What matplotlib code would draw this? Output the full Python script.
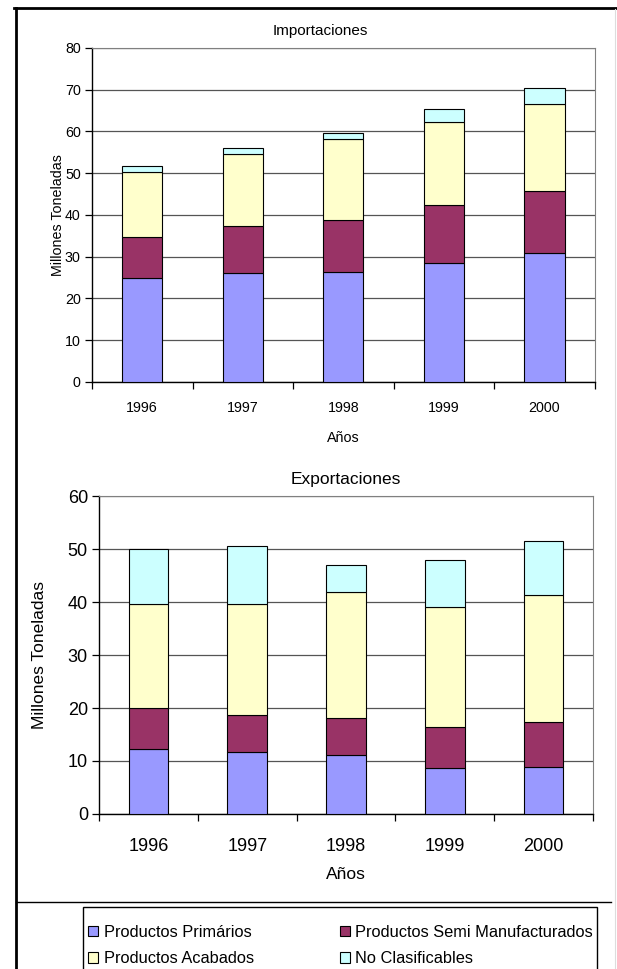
import matplotlib.pyplot as plt
from matplotlib.lines import Line2D
from matplotlib.patches import Rectangle
import numpy as np

plt.rcParams['font.family'] = ['Liberation Sans', 'DejaVu Sans']

years = ["1996", "1997", "1998", "1999", "2000"]
series = ["Productos Primários", "Productos Semi Manufacturados",
          "Productos Acabados", "No Clasificables"]
colors = ["#9999FF", "#993366", "#FFFFCC", "#CCFFFF"]

# millones de toneladas por segmento (apilado)
imp_primarios = [25.0, 26.0, 26.3, 28.4, 31.0]
imp_semi = [9.7, 11.4, 12.6, 14.0, 14.7]
imp_acabados = [15.6, 17.3, 19.4, 19.9, 20.8]
imp_noclas = [1.4, 1.4, 1.3, 3.1, 3.8]

exp_primarios = [12.3, 11.7, 11.1, 8.7, 8.8]
exp_semi = [7.7, 7.0, 7.1, 7.8, 8.5]
exp_acabados = [19.6, 20.9, 23.7, 22.6, 24.1]
exp_noclas = [10.4, 10.9, 5.1, 8.8, 10.2]

fig = plt.figure(figsize=(6.17, 9.69), dpi=100)

def stacked(ax, data, ymax, step, title, fs_tick, fs_title, fs_label, xpad, lpad, tx=0.5):
    x = np.arange(len(years))
    bottom = np.zeros(len(years))
    bars = []
    for vals, c in zip(data, colors):
        b = ax.bar(x, vals, 0.4, bottom=bottom, color=c, edgecolor="black",
                   linewidth=0.8, zorder=3)
        bars.append(b)
        bottom += np.array(vals)
    ax.set_xlim(-0.5, len(years) - 0.5)
    ax.set_ylim(0, ymax)
    ax.set_yticks(np.arange(0, ymax + 1, step))
    ax.yaxis.grid(True, color="#555555", linewidth=0.9, zorder=0)
    ax.set_xticks(x)
    ax.set_xticklabels(years, fontsize=fs_tick)
    ax.set_xticks(np.arange(-0.5, len(years)), minor=True)
    ax.tick_params(axis="x", which="major", length=0, pad=xpad)
    ax.tick_params(axis="x", which="minor", length=5, width=0.9)
    ax.tick_params(axis="y", length=5, width=0.9, labelsize=fs_tick, pad=3)
    for s in ["top", "right"]:
        ax.spines[s].set_color("#808080")
    for s in ["left", "bottom"]:
        ax.spines[s].set_linewidth(1.0)
    ax.set_title(title, fontsize=fs_title, pad=9, x=tx)
    ax.set_xlabel("Años", fontsize=fs_label, labelpad=lpad)
    ax.set_ylabel("Millones Toneladas", fontsize=fs_label)
    return bars

ax1 = fig.add_axes([0.149, 0.6058, 0.815, 0.3447])
stacked(ax1, [imp_primarios, imp_semi, imp_acabados, imp_noclas], 80, 10,
        "Importaciones", 10.3, 11, 10.3, 14, 11, tx=0.455)
ax1.yaxis.labelpad = 0

ax2 = fig.add_axes([0.1605, 0.16, 0.8006, 0.328])
bars = stacked(ax2, [exp_primarios, exp_semi, exp_acabados, exp_noclas], 60, 10,
               "Exportaciones", 13, 12.5, 12.5, 17, 9)
ax2.yaxis.labelpad = 15

# caja de la leyenda (sigue por debajo del borde inferior)
fig.add_artist(Rectangle((83 / 617, -0.05), (597 - 83) / 617, 0.05 + 1 - 907 / 969,
                         transform=fig.transFigure, facecolor="none",
                         edgecolor="black", linewidth=1.0))

# leyenda por filas: Primários / Semi, Acabados / No Clasificables
order = [0, 2, 1, 3]
leg = fig.legend([bars[i] for i in order], [series[i] for i in order],
                 loc="upper left", bbox_to_anchor=(88 / 617, 1 - 925 / 969),
                 ncol=2, frameon=False,
                 handlelength=0.6, handleheight=0.6, handletextpad=0.35,
                 columnspacing=5.25, borderpad=0, labelspacing=0.7,
                 borderaxespad=0, prop={"size": 11.8})

# marco exterior
fig.add_artist(Line2D([16 / 617, 16 / 617], [0, 1 - 8 / 969], color="black", linewidth=2))
fig.add_artist(Line2D([14 / 617, 1], [1 - 8 / 969, 1 - 8 / 969], color="black", linewidth=2))
fig.add_artist(Line2D([615 / 617, 615 / 617], [0, 1 - 9 / 969], color="#DDDDDD", linewidth=0.8))
fig.add_artist(Line2D([16 / 617, 611 / 617], [1 - 902 / 969, 1 - 902 / 969], color="black", linewidth=1))

fig.savefig("out.png", dpi=100)
